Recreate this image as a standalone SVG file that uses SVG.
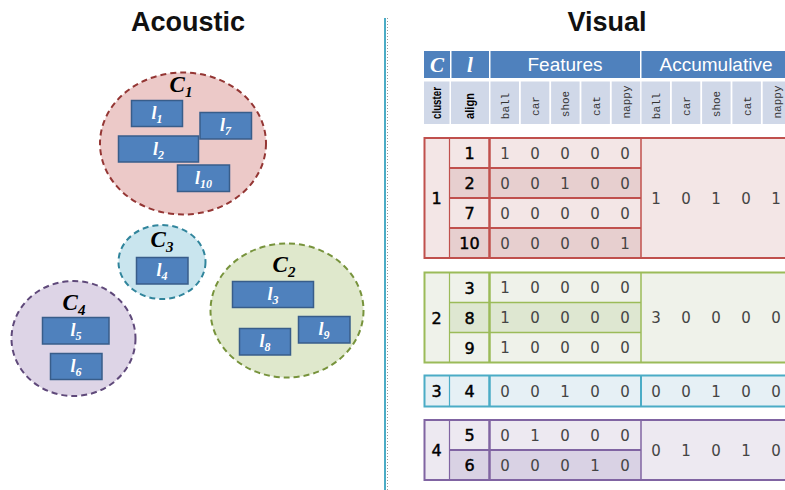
<svg xmlns="http://www.w3.org/2000/svg" width="785" height="490" viewBox="0 0 785 490">
  <style>
    .title { font-family: "Liberation Sans", Arial, sans-serif; font-weight: bold; font-size: 27px; fill: #111; text-anchor: middle; }
    .clabel { font-family: "Liberation Serif", "Times New Roman", serif; font-weight: bold; font-style: italic; font-size: 23px; fill: #000; text-anchor: middle; }
    .llabel { font-family: "Liberation Serif", "Times New Roman", serif; font-weight: bold; font-style: italic; font-size: 18px; fill: #fff; text-anchor: middle; }
    .seg { fill: #4f81bd; stroke: #385d8a; stroke-width: 1.5; }
    .hdr { fill: #4f81bd; }
    .sub { fill: #d0d8e8; }
    .hserif { font-family: "Liberation Serif", "Times New Roman", serif; font-weight: bold; font-style: italic; font-size: 21px; fill: #fff; text-anchor: middle; }
    .hsans { font-family: "Liberation Sans", Arial, sans-serif; font-size: 19px; fill: #fff; text-anchor: middle; }
    .subsans { font-family: "Liberation Sans", Arial, sans-serif; font-size: 12px; font-weight: bold; fill: #000; text-anchor: middle; }
    .submono { font-family: "Liberation Mono", "Courier New", monospace; font-size: 11px; fill: #333; text-anchor: middle; }
    .num { font-family: "DejaVu Sans", Verdana, sans-serif; font-size: 16px; fill: #000; stroke: #000; stroke-width: 0.45; text-anchor: middle; }
    .val { font-family: "DejaVu Sans", Verdana, sans-serif; font-size: 15px; fill: #444; text-anchor: middle; }
  </style>

  <!-- section titles -->
  <text class="title" x="188" y="31">Acoustic</text>
  <text class="title" x="607" y="31">Visual</text>

  <!-- vertical divider -->
  <g id="divider">
    <line x1="385" y1="18" x2="385" y2="490" stroke="#4bacc6" stroke-width="2"/>
    <line x1="387.5" y1="18" x2="387.5" y2="490" stroke="#9a9a9a" stroke-width="1" stroke-dasharray="1 2"/>
  </g>

  <!-- acoustic clusters -->
  <g id="cluster-c1">
    <ellipse cx="183" cy="143.5" rx="83" ry="71" fill="#ecc9c8" stroke="#943634" stroke-width="2" stroke-dasharray="6 4"/>
    <text class="clabel" x="181" y="92">C<tspan font-size="15" dy="5">1</tspan></text>
    <rect class="seg" x="131.5" y="100.5" width="51" height="26"/>
    <text class="llabel" x="157" y="119">l<tspan font-size="12" dy="4">1</tspan></text>
    <rect class="seg" x="200" y="112.5" width="51.5" height="26.5"/>
    <text class="llabel" x="225.5" y="131">l<tspan font-size="12" dy="4">7</tspan></text>
    <rect class="seg" x="118.5" y="136" width="80" height="26"/>
    <text class="llabel" x="158.5" y="154.5">l<tspan font-size="12" dy="4">2</tspan></text>
    <rect class="seg" x="177.5" y="165" width="52" height="26.5"/>
    <text class="llabel" x="203.5" y="183.5">l<tspan font-size="12" dy="4">10</tspan></text>
  </g>

  <g id="cluster-c3">
    <ellipse cx="162" cy="262" rx="43.5" ry="37" fill="#c9e5ee" stroke="#31859c" stroke-width="2" stroke-dasharray="6 4"/>
    <text class="clabel" x="162" y="247">C<tspan font-size="15" dy="5">3</tspan></text>
    <rect class="seg" x="136.5" y="257.5" width="51.5" height="26.5"/>
    <text class="llabel" x="162" y="276">l<tspan font-size="12" dy="4">4</tspan></text>
  </g>

  <g id="cluster-c2">
    <ellipse cx="287" cy="310.5" rx="76.5" ry="67" fill="#dfe8cc" stroke="#77933c" stroke-width="2" stroke-dasharray="6 4"/>
    <text class="clabel" x="284" y="272">C<tspan font-size="15" dy="5">2</tspan></text>
    <rect class="seg" x="232.5" y="281.5" width="81" height="26"/>
    <text class="llabel" x="273" y="300">l<tspan font-size="12" dy="4">3</tspan></text>
    <rect class="seg" x="298.5" y="316.5" width="51.5" height="26.5"/>
    <text class="llabel" x="324" y="335">l<tspan font-size="12" dy="4">9</tspan></text>
    <rect class="seg" x="239.5" y="328.5" width="51" height="26.5"/>
    <text class="llabel" x="265" y="347">l<tspan font-size="12" dy="4">8</tspan></text>
  </g>

  <g id="cluster-c4">
    <ellipse cx="73.5" cy="338.5" rx="62" ry="57.5" fill="#ddd4e6" stroke="#5f497a" stroke-width="2" stroke-dasharray="6 4"/>
    <text class="clabel" x="74" y="310">C<tspan font-size="15" dy="5">4</tspan></text>
    <rect class="seg" x="42.5" y="317.5" width="66.5" height="26.5"/>
    <text class="llabel" x="76" y="336">l<tspan font-size="12" dy="4">5</tspan></text>
    <rect class="seg" x="50.5" y="353.5" width="51.5" height="26"/>
    <text class="llabel" x="76" y="372">l<tspan font-size="12" dy="4">6</tspan></text>
  </g>

  <!-- table header -->
  <g id="table-header">
    <rect class="hdr" x="424" y="51" width="26" height="27"/>
    <rect class="hdr" x="451.5" y="51" width="37.5" height="27"/>
    <rect class="hdr" x="490.5" y="51" width="149.5" height="27"/>
    <rect class="hdr" x="641.5" y="51" width="150" height="27"/>
    <text class="hserif" x="437" y="72">C</text>
    <text class="hserif" x="470" y="72">l</text>
    <text class="hsans" x="565" y="71">Features</text>
    <text class="hsans" x="716" y="71">Accumulative</text>

    <rect class="sub" x="424" y="81.5" width="25.5" height="42.5"/>
    <rect class="sub" x="451" y="81.5" width="38" height="42.5"/>
    <rect class="sub" x="490.5" y="81.5" width="28.5" height="42.5"/>
    <rect class="sub" x="520.8" y="81.5" width="28.5" height="42.5"/>
    <rect class="sub" x="551.1" y="81.5" width="28.5" height="42.5"/>
    <rect class="sub" x="581.4" y="81.5" width="28.5" height="42.5"/>
    <rect class="sub" x="611.7" y="81.5" width="28.5" height="42.5"/>
    <rect class="sub" x="641.5" y="81.5" width="28.5" height="42.5"/>
    <rect class="sub" x="671.8" y="81.5" width="28.5" height="42.5"/>
    <rect class="sub" x="702.1" y="81.5" width="28.5" height="42.5"/>
    <rect class="sub" x="732.4" y="81.5" width="28.5" height="42.5"/>
    <rect class="sub" x="762.7" y="81.5" width="28.5" height="42.5"/>
    <text class="subsans" transform="translate(437,103) rotate(-90)" dy="4" textLength="32" lengthAdjust="spacingAndGlyphs">cluster</text>
    <text class="subsans" transform="translate(470,106) rotate(-90)" dy="4" textLength="26" lengthAdjust="spacingAndGlyphs">align</text>
    <text class="submono" transform="translate(505,106) rotate(-90)" dy="3.5">ball</text>
    <text class="submono" transform="translate(535,106) rotate(-90)" dy="3.5">car</text>
    <text class="submono" transform="translate(565,104) rotate(-90)" dy="3.5">shoe</text>
    <text class="submono" transform="translate(596,106) rotate(-90)" dy="3.5">cat</text>
    <text class="submono" transform="translate(626,102) rotate(-90)" dy="3.5">nappy</text>
    <text class="submono" transform="translate(656,106) rotate(-90)" dy="3.5">ball</text>
    <text class="submono" transform="translate(686,106) rotate(-90)" dy="3.5">car</text>
    <text class="submono" transform="translate(716,104) rotate(-90)" dy="3.5">shoe</text>
    <text class="submono" transform="translate(747,106) rotate(-90)" dy="3.5">cat</text>
    <text class="submono" transform="translate(777,102) rotate(-90)" dy="3.5">nappy</text>
  </g>

  <!-- visual cluster 1 -->
  <g id="table-c1">
    <rect x="424.5" y="138" width="370" height="120" fill="#f3e6e6"/>
    <rect x="449.5" y="168" width="191.5" height="30" fill="#e7cfcf"/>
    <rect x="449.5" y="228" width="191.5" height="30" fill="#e7cfcf"/>
    <g stroke="#c0504d" fill="none">
      <rect x="424.5" y="138" width="370" height="120" stroke-width="2"/>
      <line x1="449.5" y1="138" x2="449.5" y2="258" stroke-width="1.2"/>
      <line x1="489.5" y1="138" x2="489.5" y2="258" stroke-width="2.5"/>
      <line x1="641" y1="138" x2="641" y2="258" stroke-width="1.5"/>
      <line x1="449.5" y1="168" x2="641" y2="168" stroke-width="2"/>
      <line x1="449.5" y1="198" x2="641" y2="198" stroke-width="2"/>
      <line x1="449.5" y1="228" x2="641" y2="228" stroke-width="2"/>
    </g>
    <text class="num" x="436.5" y="204">1</text>
    <text class="num" x="469.5" y="159">1</text>
    <text class="num" x="469.5" y="189">2</text>
    <text class="num" x="469.5" y="219">7</text>
    <text class="num" x="469.5" y="249">10</text>
    <text class="val" x="505 535 565 595 625" y="158.5">10000</text>
    <text class="val" x="505 535 565 595 625" y="188.5">00100</text>
    <text class="val" x="505 535 565 595 625" y="218.5">00000</text>
    <text class="val" x="505 535 565 595 625" y="248.5">00001</text>
    <text class="val" x="656 686 716 746 776" y="203.5">10101</text>
  </g>

  <!-- visual cluster 2 -->
  <g id="table-c2">
    <rect x="424.5" y="272.5" width="370" height="90" fill="#eff2ea"/>
    <rect x="449.5" y="302.5" width="191.5" height="30" fill="#dee7d1"/>
    <g stroke="#9bbb59" fill="none">
      <rect x="424.5" y="272.5" width="370" height="90" stroke-width="2"/>
      <line x1="449.5" y1="272.5" x2="449.5" y2="362.5" stroke-width="1.2"/>
      <line x1="489.5" y1="272.5" x2="489.5" y2="362.5" stroke-width="2.5"/>
      <line x1="641" y1="272.5" x2="641" y2="362.5" stroke-width="1.5"/>
      <line x1="449.5" y1="302.5" x2="641" y2="302.5" stroke-width="1.5"/>
      <line x1="449.5" y1="332.5" x2="641" y2="332.5" stroke-width="1.5"/>
    </g>
    <text class="num" x="436.5" y="323.5">2</text>
    <text class="num" x="469.5" y="293.5">3</text>
    <text class="num" x="469.5" y="323.5">8</text>
    <text class="num" x="469.5" y="353.5">9</text>
    <text class="val" x="505 535 565 595 625" y="293">10000</text>
    <text class="val" x="505 535 565 595 625" y="323">10000</text>
    <text class="val" x="505 535 565 595 625" y="353">10000</text>
    <text class="val" x="656 686 716 746 776" y="323">30000</text>
  </g>

  <!-- visual cluster 3 -->
  <g id="table-c3">
    <rect x="424.5" y="375.5" width="370" height="31" fill="#e6f0f5"/>
    <g stroke="#4bacc6" fill="none">
      <rect x="424.5" y="375.5" width="370" height="31" stroke-width="2"/>
      <line x1="449.5" y1="375.5" x2="449.5" y2="406.5" stroke-width="1.2"/>
      <line x1="489.5" y1="375.5" x2="489.5" y2="406.5" stroke-width="2.5"/>
      <line x1="641" y1="375.5" x2="641" y2="406.5" stroke-width="2"/>
    </g>
    <text class="num" x="436.5" y="397">3</text>
    <text class="num" x="469.5" y="397">4</text>
    <text class="val" x="505 535 565 595 625" y="396.5">00100</text>
    <text class="val" x="656 686 716 746 776" y="396.5">00100</text>
  </g>

  <!-- visual cluster 4 -->
  <g id="table-c4">
    <rect x="424.5" y="420" width="370" height="60" fill="#ede9f1"/>
    <rect x="449.5" y="450" width="191.5" height="30" fill="#d9d2e4"/>
    <g stroke="#8064a2" fill="none">
      <rect x="424.5" y="420" width="370" height="60" stroke-width="2"/>
      <line x1="449.5" y1="420" x2="449.5" y2="480" stroke-width="1.2"/>
      <line x1="489.5" y1="420" x2="489.5" y2="480" stroke-width="2.5"/>
      <line x1="641" y1="420" x2="641" y2="480" stroke-width="1.5"/>
      <line x1="449.5" y1="450" x2="641" y2="450" stroke-width="2"/>
    </g>
    <text class="num" x="436.5" y="456">4</text>
    <text class="num" x="469.5" y="441">5</text>
    <text class="num" x="469.5" y="471">6</text>
    <text class="val" x="505 535 565 595 625" y="440.5">01000</text>
    <text class="val" x="505 535 565 595 625" y="470.5">00010</text>
    <text class="val" x="656 686 716 746 776" y="455.5">01010</text>
  </g>
</svg>
